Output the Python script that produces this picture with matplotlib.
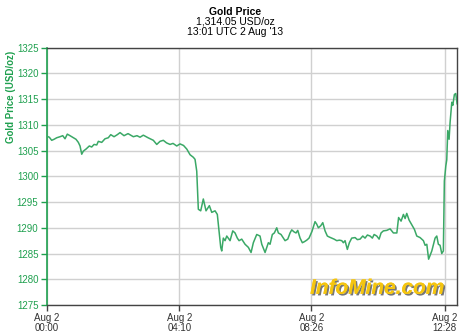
import matplotlib
matplotlib.use('Agg')
import matplotlib.pyplot as plt
import matplotlib.patheffects as pe

# minutes after 00:00 UTC, 2 Aug 2013
minutos = [0, 4.9, 9.4, 13.8, 18.9, 25.1, 30.2, 34.5, 38.8, 43.9, 50.2, 55.2, 59.6, 62.8,
           66, 69, 74.1, 80.3, 84.8, 89.2, 94.3, 97.3, 103.7, 109.9, 116.1, 120.7, 126.9,
           133.1, 138.2, 145.7, 153.3, 163.3, 170.2, 175.9, 182.1, 191, 201, 207.4, 213.6,
           219.8, 225.9, 232.5, 238.1, 245.1, 251.3, 257.9, 264, 270.2, 276.4, 279.6, 282.8,
           285.8, 290.3, 295.2, 300.3, 306.6, 311.1, 317.3, 321.6, 324.8, 328, 329.9, 332.9,
           336.2, 339.4, 345.6, 350.7, 355, 359.3, 362.6, 367.6, 373.9, 380.1, 385.2, 389.5,
           395.9, 402.1, 405.4, 411.6, 414.8, 417.8, 421, 425.3, 429.1, 433.6, 436.7, 441.7,
           446.1, 449.3, 454.4, 458.7, 461.9, 466.3, 470, 473.2, 477.6, 481.9, 485.7, 490.2,
           494.5, 500, 505.8, 509, 512.1, 516.6, 520.4, 524.7, 529, 532.8, 537.3, 541.7,
           546.8, 551.7, 556.2, 559.2, 562.4, 566.7, 570.5, 575, 581.3, 585.6, 590.7, 595.8,
           600.1, 604.5, 609.6, 613.9, 617.2, 622.2, 626.6, 630.3, 634.6, 641, 647.3, 653.5,
           660, 663.3, 668, 672.4, 675.6, 678.7, 683.1, 688.2, 693.1, 697.6, 703.8, 710.1,
           713.3, 716.5, 719.9, 725.9, 732.1, 735.3, 738.3, 741.5, 744.7, 747.7, 749.6, 752.3,
           754.1, 756, 758.5, 760.4, 763.6, 765.5, 768.5, 771.1, 773.6]
preco = [1307.8, 1307.6, 1307.0, 1307.2, 1307.5, 1307.7, 1307.9, 1307.3, 1308.2, 1307.9,
         1307.5, 1307.2, 1306.6, 1305.9, 1304.3, 1304.9, 1305.3, 1305.9, 1305.7, 1306.2,
         1306.1, 1306.8, 1306.6, 1307.3, 1307.5, 1308.1, 1307.7, 1308.1, 1308.5, 1307.9,
         1308.3, 1307.7, 1307.9, 1307.6, 1308.0, 1307.5, 1307.0, 1306.2, 1306.8, 1307.0,
         1306.5, 1306.2, 1306.4, 1305.9, 1306.3, 1306.0, 1305.3, 1304.2, 1303.7, 1303.3,
         1301.0, 1293.6, 1293.3, 1295.6, 1293.3, 1294.3, 1293.0, 1293.3, 1292.6, 1289.4,
         1286.2, 1285.5, 1288.0, 1287.5, 1288.4, 1287.5, 1289.4, 1289.0, 1288.0, 1287.5,
         1287.8, 1286.8, 1286.2, 1285.2, 1287.1, 1288.7, 1288.4, 1286.8, 1285.2, 1286.2,
         1287.1, 1286.8, 1288.7, 1289.0, 1290.0, 1289.0, 1288.7, 1288.0, 1287.5, 1287.8,
         1289.0, 1289.6, 1289.2, 1289.0, 1289.5, 1288.0, 1287.1, 1287.3, 1287.6, 1288.0,
         1289.3, 1291.2, 1290.7, 1290.0, 1290.4, 1291.0, 1289.4, 1288.4, 1288.2, 1288.0,
         1287.8, 1287.5, 1287.6, 1287.5, 1287.1, 1287.5, 1285.8, 1287.1, 1288.0, 1288.1,
         1287.7, 1287.8, 1288.4, 1288.0, 1288.6, 1288.4, 1288.0, 1288.7, 1288.4, 1287.8,
         1289.0, 1289.4, 1289.5, 1289.8, 1289.0, 1289.0, 1292.0, 1291.3, 1292.6, 1291.8,
         1292.8, 1291.5, 1290.6, 1289.7, 1288.4, 1288.1, 1287.5, 1286.6, 1286.8, 1283.9,
         1285.5, 1288.0, 1288.4, 1286.8, 1286.6, 1285.0, 1285.5, 1299.1, 1302.0, 1303.2,
         1308.9, 1307.2, 1310.5, 1314.4, 1313.8, 1315.9, 1316.1, 1314.1]

ticks_x = [0, 250, 499, 750]
labels_x = ['Aug 2\n00:00', 'Aug 2\n04:10', 'Aug 2\n08:26', 'Aug 2\n12:28']
ticks_y = list(range(1275, 1330, 5))

verde = '#1fa04f'
linha = '#3aa866'
cinza = '#444444'

plt.rcParams['font.family'] = ['Liberation Sans', 'DejaVu Sans']

fig = plt.figure(figsize=(4.7, 3.33), dpi=100)
ax = fig.add_axes([0.0994, 0.0841, 0.8736, 0.7727])

ax.plot(minutos, preco, color=linha, lw=1.1, zorder=3)

ax.set_xlim(0, 774)
ax.set_ylim(1275, 1325)
ax.set_xticks(ticks_x)
ax.set_xticklabels(labels_x, fontsize=7, color='#333333', linespacing=1.0)
ax.set_yticks(ticks_y)
ax.set_yticklabels([str(v) for v in ticks_y], fontsize=7, color=verde)
ax.grid(True, color='#d0d0d0', lw=1, zorder=0)
ax.tick_params(axis='y', length=4, width=1, color=verde, pad=2)
ax.tick_params(axis='x', length=4, width=1, color=cinza, pad=2)

ax.spines['left'].set_color(verde)
ax.spines['left'].set_linewidth(1.2)
for s in ['top', 'right', 'bottom']:
    ax.spines[s].set_color(cinza)
    ax.spines[s].set_linewidth(1.0)

ax.set_ylabel('Gold Price (USD/oz)', fontsize=7, fontweight='bold', color=verde, va='center')
ax.yaxis.set_label_coords(-0.087, 0.81)

fig.text(0.5, 1 - 12 / 333, 'Gold Price', ha='center', va='center', fontsize=7.5, fontweight='bold')
fig.text(0.5, 1 - 22 / 333, '1,314.05 USD/oz', ha='center', va='center', fontsize=7.5)
fig.text(0.5, 1 - 32 / 333, "13:01 UTC 2 Aug '13", ha='center', va='center', fontsize=7.5)

wm = ax.text(0.805, 0.065, 'InfoMine.com', transform=ax.transAxes, ha='center', va='center',
             fontsize=15, fontweight='bold', style='italic', color='#f5c50f', zorder=4)
wm.set_path_effects([pe.withSimplePatchShadow(offset=(1.2, -1.2), shadow_rgbFace='#555555', alpha=0.8),
                     pe.Normal()])

fig.savefig('out.png', dpi=100)
